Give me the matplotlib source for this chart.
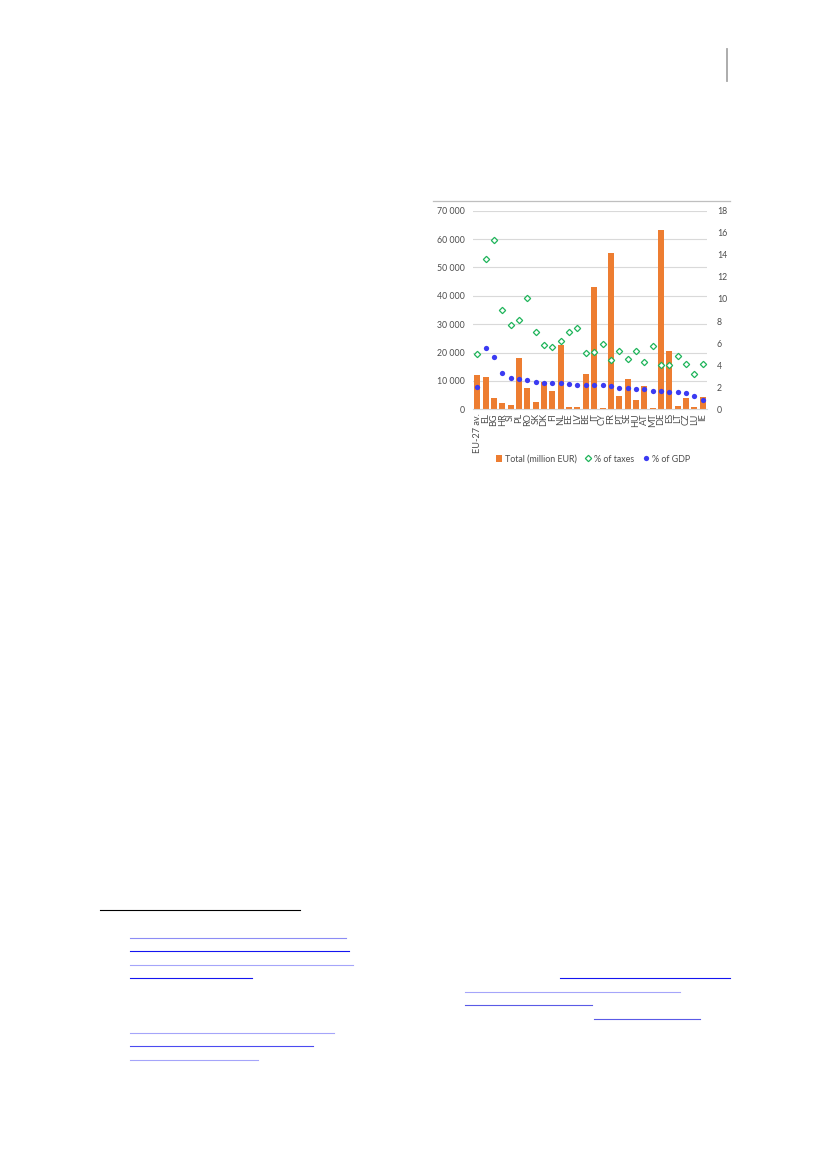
import matplotlib
matplotlib.use("Agg")
import matplotlib.pyplot as plt
from matplotlib.lines import Line2D
from matplotlib.patches import Patch
from matplotlib.ticker import FuncFormatter

plt.rcParams['font.family'] = ['Lato', 'DejaVu Sans']

countries = ["EU-27 av.", "EL", "BG", "HR", "SI", "PL", "RO", "SK", "DK", "FI",
             "NL", "EE", "LV", "BE", "IT", "CY", "FR", "PT", "SE", "HU",
             "AT", "MT", "DE", "ES", "LT", "CZ", "LU", "IE"]
total_meur = [12000, 11500, 4100, 2200, 1500, 18200, 7650, 2700, 9500, 6500,
              22700, 800, 800, 12350, 43000, 500, 55000, 4600, 10700, 3200,
              8350, 350, 63300, 20600, 1050, 4100, 950, 4300]
pct_taxes = [5.0, 13.6, 15.3, 9.0, 7.6, 8.1, 10.1, 7.05, 5.8, 5.65,
             6.15, 7.0, 7.35, 5.1, 5.15, 5.95, 4.5, 5.3, 4.55, 5.3,
             4.3, 5.7, 4.0, 4.05, 4.8, 4.15, 3.2, 4.15]
pct_gdp = [2.0, 5.55, 4.72, 3.3, 2.86, 2.77, 2.68, 2.45, 2.4, 2.4,
           2.36, 2.3, 2.24, 2.2, 2.23, 2.18, 2.08, 1.9, 1.9, 1.86,
           1.86, 1.63, 1.63, 1.54, 1.54, 1.5, 1.23, 0.88]
left_ticks = [0, 10000, 20000, 30000, 40000, 50000, 60000, 70000]
right_ticks = [0, 2, 4, 6, 8, 10, 12, 14, 16, 18]

ORANGE = '#ED7D31'
GREEN = '#1FB45A'
BLUE = '#3B3BF2'
TXT = '#4D4D4D'
GRID = '#D9D9D9'

W, H = 827, 1169
fig = plt.figure(figsize=(W / 100, H / 100), dpi=100)

def fx(x):
    return x / W

def fy(y):
    return 1 - y / H

ax = fig.add_axes([fx(473), fy(409.3), fx(707) - fx(473), fy(210.7) - fy(409.3)])
x = list(range(len(countries)))
ax.bar(x, total_meur, width=0.72, color=ORANGE, zorder=2)
ax.set_xlim(-0.5, len(countries) - 0.5)
ax.set_ylim(0, 70000)
ax.set_yticks(left_ticks)
ax.yaxis.set_major_formatter(FuncFormatter(lambda v, p: f"{int(v):,}".replace(",", " ")))
ax.grid(axis='y', color=GRID, lw=0.8, zorder=0)
ax.set_axisbelow(True)
ax.set_xticks(x)
ax.set_xticklabels(countries, rotation=90, ha='center', va='top')
for s in ['top', 'left', 'right']:
    ax.spines[s].set_visible(False)
ax.spines['bottom'].set_color(GRID)
ax.spines['bottom'].set_linewidth(0.8)
ax.tick_params(axis='y', length=0, pad=5.8, labelsize=6.3, labelcolor=TXT)
ax.tick_params(axis='x', length=0, pad=2.8, labelsize=6.6, labelcolor=TXT)

ax2 = ax.twinx()
ax2.set_ylim(0, 18)
ax2.set_yticks(right_ticks)
ax2.plot(x, pct_taxes, linestyle='none', marker='D', markersize=3.2,
         markerfacecolor='white', markeredgecolor=GREEN, markeredgewidth=0.9, zorder=3)
ax2.plot(x, pct_gdp, linestyle='none', marker='o', markersize=3.8,
         color=BLUE, markeredgewidth=0, zorder=4)
for s in ax2.spines.values():
    s.set_visible(False)
ax2.tick_params(axis='y', length=0, pad=7.0, labelsize=6.3, labelcolor=TXT)

handles = [Patch(facecolor=ORANGE, edgecolor='none'),
           Line2D([], [], linestyle='none', marker='D', markersize=3.2,
                  markerfacecolor='white', markeredgecolor=GREEN, markeredgewidth=0.9),
           Line2D([], [], linestyle='none', marker='o', markersize=3.8,
                  color=BLUE, markeredgewidth=0)]
labels = ["Total (million EUR)", "% of taxes", "% of GDP"]
leg = fig.legend(handles, labels, loc='center', bbox_to_anchor=(fx(593), fy(459)),
                 ncol=3, frameon=False, fontsize=6.4, handlelength=0.7,
                 handleheight=0.7, handletextpad=0.35, columnspacing=0.9)
for t in leg.get_texts():
    t.set_color(TXT)

# page decorations
def hline(x0, x1, y, color, lw=1.0):
    fig.add_artist(Line2D([fx(x0), fx(x1)], [fy(y), fy(y)], color=color, lw=lw,
                          transform=fig.transFigure))

fig.add_artist(Line2D([fx(727), fx(727)], [fy(49), fy(81)], color='#A6A6A6', lw=1.3,
                      transform=fig.transFigure))
hline(433, 730, 201, '#BFBFBF', 0.9)
hline(100, 300, 910.3, 'black', 0.8)
underlines = [
    (130, 346, 937.7, '#8C8CF5'),
    (130, 349, 951.3, '#1414F0'),
    (130, 353, 964.7, '#A5A5FA'),
    (130, 252, 978.3, '#1414F0'),
    (560, 730, 978.3, '#1414F0'),
    (465, 680, 991.7, '#A5A5FA'),
    (465, 592, 1005.3, '#5A5AE6'),
    (594, 700, 1019.0, '#5A5AE6'),
    (130, 334, 1032.7, '#A5A5FA'),
    (130, 313, 1046.0, '#4B4BF0'),
    (130, 258, 1060.0, '#A5A5FA'),
]
for x0, x1, y, c in underlines:
    hline(x0, x1, y, c, 0.8)

fig.savefig("out.png", dpi=100)
